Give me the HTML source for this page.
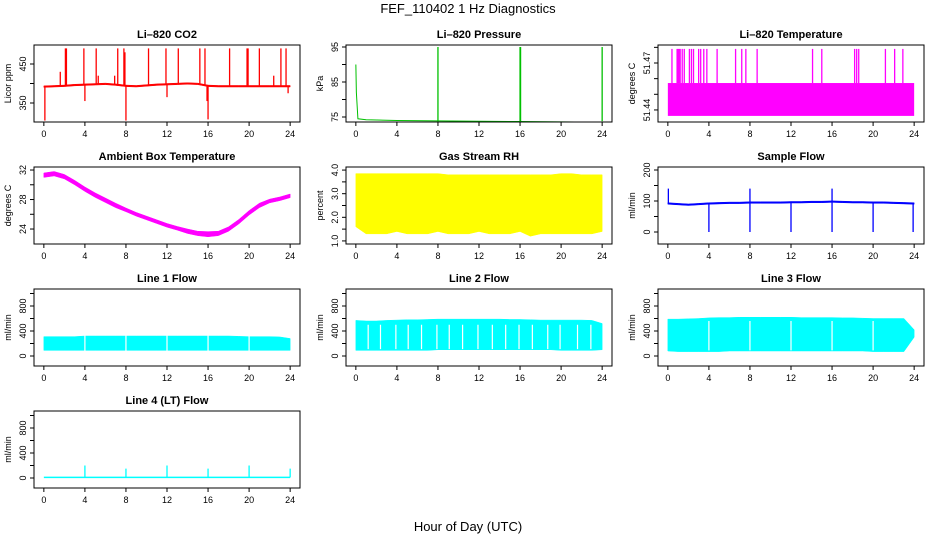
<!DOCTYPE html>
<html><head><meta charset="utf-8"><style>
html,body{margin:0;padding:0;background:#fff;}
svg{display:block;font-family:"Liberation Sans",sans-serif;}
</style></head><body>
<svg id="chart" width="936" height="540" viewBox="0 0 936 540">
<text x="468" y="13" text-anchor="middle" font-size="13">FEF_110402  1 Hz Diagnostics</text>
<text x="468" y="531" text-anchor="middle" font-size="13">Hour of Day (UTC)</text>
</svg>
<script>
// ---- data ----
const hours = [0,1,2,3,4,5,6,7,8,9,10,11,12,13,14,15,16,17,18,19,20,21,22,23,24];
const xTicks = [0,4,8,12,16,20,24];

const co2Base = [392,393,394,396,397,398,399,397,394,393,395,397,398,399,400,399,394,393,393,393,393,393,393,393,393];
const co2SpikeHours = [0.1,1.6,2.1,2.2,3.9,4.0,5.1,5.3,6.9,7.2,7.8,7.9,8.0,10.2,11.9,12.0,13.1,15.2,15.7,15.9,16.0,18.1,19.8,19.9,21.0,22.4,23.1,23.6,23.8];
const co2SpikeVals = [305,430,490,490,490,355,490,420,420,490,490,480,305,490,490,365,490,490,490,355,308,490,490,490,490,420,490,490,375];

const pressHours = [0,0.05,0.2,1,4,8,12,16,20,24];
const pressVals = [90,82,74.5,74.2,74.0,73.9,73.8,73.7,73.6,73.5];
const pressSpikeHours = [8.0,16.0,16.05,24.0];
const pressSpikeVals = [95,95,95,95];

const litLow = 51.4362, litHigh = 51.4572;
const litSpikeHours = [0.4,0.9,1.0,1.1,1.2,1.4,1.6,2.1,2.3,2.5,3.0,3.2,3.5,3.8,4.8,6.6,7.2,7.6,8.7,14.1,15.0,18.2,18.4,18.6,21.2,22.1,22.9];
const litSpikeVal = 51.479;

const ambMid = [31.3,31.5,31.1,30.3,29.4,28.6,27.9,27.2,26.6,26.0,25.5,25.0,24.5,24.1,23.7,23.4,23.3,23.4,24.0,25.0,26.2,27.2,27.8,28.1,28.5];
const ambSpread = [0.3,0.3,0.3,0.3,0.3,0.3,0.3,0.3,0.25,0.25,0.25,0.25,0.25,0.25,0.3,0.3,0.35,0.3,0.3,0.3,0.3,0.3,0.25,0.25,0.25];

const rhHi = [3.85,3.85,3.85,3.85,3.85,3.85,3.85,3.85,3.85,3.8,3.8,3.8,3.8,3.8,3.8,3.8,3.8,3.8,3.8,3.8,3.85,3.85,3.8,3.8,3.8];
const rhLo = [1.6,1.3,1.3,1.3,1.4,1.3,1.3,1.3,1.4,1.3,1.3,1.3,1.4,1.3,1.3,1.3,1.4,1.2,1.3,1.3,1.3,1.3,1.3,1.3,1.4];

const sfBase = [92,90,88,90,92,93,94,94,95,95,95,95,96,96,97,97,98,97,96,96,95,95,94,93,92];
const sfDropHours = [4,8,12,16,20,23.9];
const sfDropVals = [0,0,0,0,0,0];
const sfSpikeHours = [0.05,8.0,16.0];
const sfSpikeVals = [140,140,140];

const l1Lo = [90,90,90,90,90,90,90,90,90,90,90,90,90,90,90,90,90,90,90,90,90,90,90,90,90];
const l1Hi = [310,310,310,310,320,320,320,320,320,320,320,320,320,320,320,320,320,320,320,315,310,310,310,305,280];
const l1Gaps = [4,8,12,16,20];
const l2Lo = [90,90,90,90,90,90,90,90,100,100,100,100,100,100,100,100,100,100,100,100,90,90,90,90,100];
const l2Hi = [570,560,560,570,575,580,580,585,590,590,590,590,590,590,590,585,585,580,575,575,575,575,575,570,520];
const l2Gaps = [1.2,2.4,3.9,5.1,6.4,7.9,9.1,10.4,11.9,13.3,14.6,15.9,17.2,18.7,19.9,21.6,22.9];
const l3Lo = [80,70,70,70,70,70,80,80,80,80,80,80,80,80,80,80,80,80,80,80,70,70,70,70,300];
const l3Hi = [590,590,595,600,610,615,615,620,620,620,620,620,620,615,615,615,615,610,610,605,600,600,600,600,420];
const l3Gaps = [4,8,12,16,20];
const l4Base = [10,10,10,10,10,10,10,10,10,10,10,10,10,10,10,10,10,10,10,10,10,10,10,10,10];
const l4SpikeHours = [4,8,12,16,20,24];
const l4SpikeVals = [200,150,200,150,200,150];

// ---- layout ----
const NS = "http://www.w3.org/2000/svg";
const svg = document.getElementById('chart');
const colL = [34,346,658], W = 266, rowT = [45,167,289,411], H = 77;
function el(tag, attrs, parent){ const e=document.createElementNS(NS,tag); for(const k in attrs) e.setAttribute(k,attrs[k]); (parent||svg).appendChild(e); return e; }

function panel(cfg){
  const L=colL[cfg.col], T=rowT[cfg.row], B=T+H, R=L+W;
  const g = el('g',{});
  
  
  const xs = t => L + (t+0.96)/25.92*W;
  const ys = v => B - (v-cfg.ymin)/(cfg.ymax-cfg.ymin)*H;
  const plot = el('g',{'clip-path':'url(#clip'+cfg.name+')'}, g);
  
  
  const cp = el('clipPath',{id:'clip'+cfg.name}, g); el('rect',{x:L,y:T,width:W,height:H},cp);
  cfg.draw(plot, xs, ys);
  const box = el('rect',{x:L,y:T,width:W,height:H,fill:'none',stroke:'#000','stroke-width':1}, g);
  
  
  const title = el('text',{x:(L+R)/2,y:T-7,'text-anchor':'middle','font-size':11,'font-weight':'bold'}, g);
  title.textContent = cfg.title;
  
  
  xTicks.forEach(t=>{
    el('line',{x1:xs(t),x2:xs(t),y1:B,y2:B+4,stroke:'#000'}, g);
    const tx = el('text',{x:xs(t),y:B+15,'text-anchor':'middle','font-size':9}, g);
    tx.textContent = t;
    
    
  });
  cfg.yticks.forEach(v=>{
    const y=ys(v); if(y<T-0.5||y>B+0.5) return;
    el('line',{x1:L-4,x2:L,y1:y,y2:y,stroke:'#000'}, g);
  });
  cfg.ylabels.forEach(v=>{
    const y=ys(v);
    const tx = el('text',{x:L-8,y:y,'text-anchor':'middle','font-size':9,transform:'rotate(-90 '+(L-8)+' '+y+')'}, g);
    tx.textContent = cfg.fmt ? cfg.fmt(v) : v;
    
    
  });
  const yt = el('text',{x:L-23,y:(T+B)/2,'text-anchor':'middle','font-size':9,transform:'rotate(-90 '+(L-23)+' '+((T+B)/2)+')'}, g);
  yt.textContent = cfg.ylab;
  
  
}
function poly(p, pts, color, w){ el('polyline',{points:pts.map(q=>q.join(',')).join(' '),fill:'none',stroke:color,'stroke-width':w||1},p); }
function band(p, xs, ys, lo, hi, color){
  const pts = hours.map((h,i)=>[xs(h),ys(hi[i])]).concat(hours.slice().reverse().map((h,j)=>{const i=hours.length-1-j;return [xs(h),ys(lo[i])];}));
  el('polygon',{points:pts.map(q=>q.join(',')).join(' '),fill:color,stroke:color,'stroke-width':0.5},p);
}
function spikes(p, xs, ys, hs, vs, base, color){
  hs.forEach((h,i)=>el('line',{x1:xs(h),x2:xs(h),y1:ys(base(h)),y2:ys(vs[i]),stroke:color,'stroke-width':1.3},p));
}
function interp(arr){ return h=>{const i=Math.min(23,Math.floor(h));const f=h-i;return arr[i]*(1-f)+arr[i+1]*f;}; }
function gaps(p, xs, ys, gs, lo, hi){ gs.forEach(h=>el('line',{x1:xs(h),x2:xs(h),y1:ys(hi),y2:ys(lo),stroke:'#fff','stroke-width':1.2},p)); }

panel({name:'co2',col:0,row:0,title:'Li–820 CO2',ylab:'Licor ppm',ymin:301.3,ymax:498.7,yticks:[350,400,450],ylabels:[350,450],
  draw:(p,xs,ys)=>{ band(p,xs,ys,co2Base.map(v=>v-2),co2Base.map(v=>v+2),'#f00'); spikes(p,xs,ys,co2SpikeHours,co2SpikeVals,interp(co2Base),'#f00'); }});
panel({name:'pressure',col:1,row:0,title:'Li–820 Pressure',ylab:'kPa',ymin:73.57,ymax:95.57,yticks:[75,80,85,90,95],ylabels:[75,85,95],
  draw:(p,xs,ys)=>{ poly(p,pressHours.map((h,i)=>[xs(h),ys(pressVals[i])]),'#00c000',1); spikes(p,xs,ys,pressSpikeHours,pressSpikeVals,()=>73.8,'#00c000'); }});
panel({name:'li820-temp',col:2,row:0,title:'Li–820 Temperature',ylab:'degrees C',ymin:51.4323,ymax:51.4815,yticks:[51.44,51.45,51.46,51.47,51.48],ylabels:[51.44,51.47],fmt:v=>v.toFixed(2),
  draw:(p,xs,ys)=>{ el('rect',{x:xs(0),y:ys(litHigh),width:xs(24)-xs(0),height:ys(litLow)-ys(litHigh),fill:'#f0f'},p); spikes(p,xs,ys,litSpikeHours,litSpikeHours.map(()=>litSpikeVal),()=>litHigh,'#f0f'); }});
panel({name:'ambient-temp',col:0,row:1,title:'Ambient Box Temperature',ylab:'degrees C',ymin:21.97,ymax:32.41,yticks:[24,26,28,30,32],ylabels:[24,28,32],
  draw:(p,xs,ys)=>{ band(p,xs,ys,ambMid.map((v,i)=>v-ambSpread[i]),ambMid.map((v,i)=>v+ambSpread[i]),'#f0f'); }});
panel({name:'gas-rh',col:1,row:1,title:'Gas Stream RH',ylab:'percent',ymin:0.87,ymax:4.13,yticks:[1,1.5,2,2.5,3,3.5,4],ylabels:[1,2,3,4],fmt:v=>v.toFixed(1),
  draw:(p,xs,ys)=>{ band(p,xs,ys,rhLo,rhHi,'#ff0'); }});
panel({name:'sample-flow',col:2,row:1,title:'Sample Flow',ylab:'ml/min',ymin:-38.7,ymax:209.7,yticks:[0,50,100,150,200],ylabels:[0,100,200],
  draw:(p,xs,ys)=>{ band(p,xs,ys,sfBase.map(v=>v-2.5),sfBase.map(v=>v+2.5),'#00f'); spikes(p,xs,ys,sfDropHours,sfDropVals,interp(sfBase),'#00f'); spikes(p,xs,ys,sfSpikeHours,sfSpikeVals,interp(sfBase),'#00f'); }});
const flowT=[0,200,400,600,800,1000], flowL=[0,400,800];
panel({name:'line1-flow',col:0,row:2,title:'Line 1 Flow',ylab:'ml/min',ymin:-160,ymax:1072,yticks:flowT,ylabels:flowL,
  draw:(p,xs,ys)=>{ band(p,xs,ys,l1Lo,l1Hi,'#0ff'); gaps(p,xs,ys,l1Gaps,60,340); }});
panel({name:'line2-flow',col:1,row:2,title:'Line 2 Flow',ylab:'ml/min',ymin:-160,ymax:1072,yticks:flowT,ylabels:flowL,
  draw:(p,xs,ys)=>{ band(p,xs,ys,l2Lo,l2Hi,'#0ff'); gaps(p,xs,ys,l2Gaps,110,500); }});
panel({name:'line3-flow',col:2,row:2,title:'Line 3 Flow',ylab:'ml/min',ymin:-160,ymax:1072,yticks:flowT,ylabels:flowL,
  draw:(p,xs,ys)=>{ band(p,xs,ys,l3Lo,l3Hi,'#0ff'); gaps(p,xs,ys,l3Gaps,90,560); }});
panel({name:'line4-flow',col:0,row:3,title:'Line 4 (LT) Flow',ylab:'ml/min',ymin:-160,ymax:1072,yticks:flowT,ylabels:flowL,
  draw:(p,xs,ys)=>{ poly(p,hours.map((h,i)=>[xs(h),ys(l4Base[i])]),'#0ff',1.5); spikes(p,xs,ys,l4SpikeHours,l4SpikeVals,interp(l4Base),'#0ff'); }});
</script>
</body></html>
